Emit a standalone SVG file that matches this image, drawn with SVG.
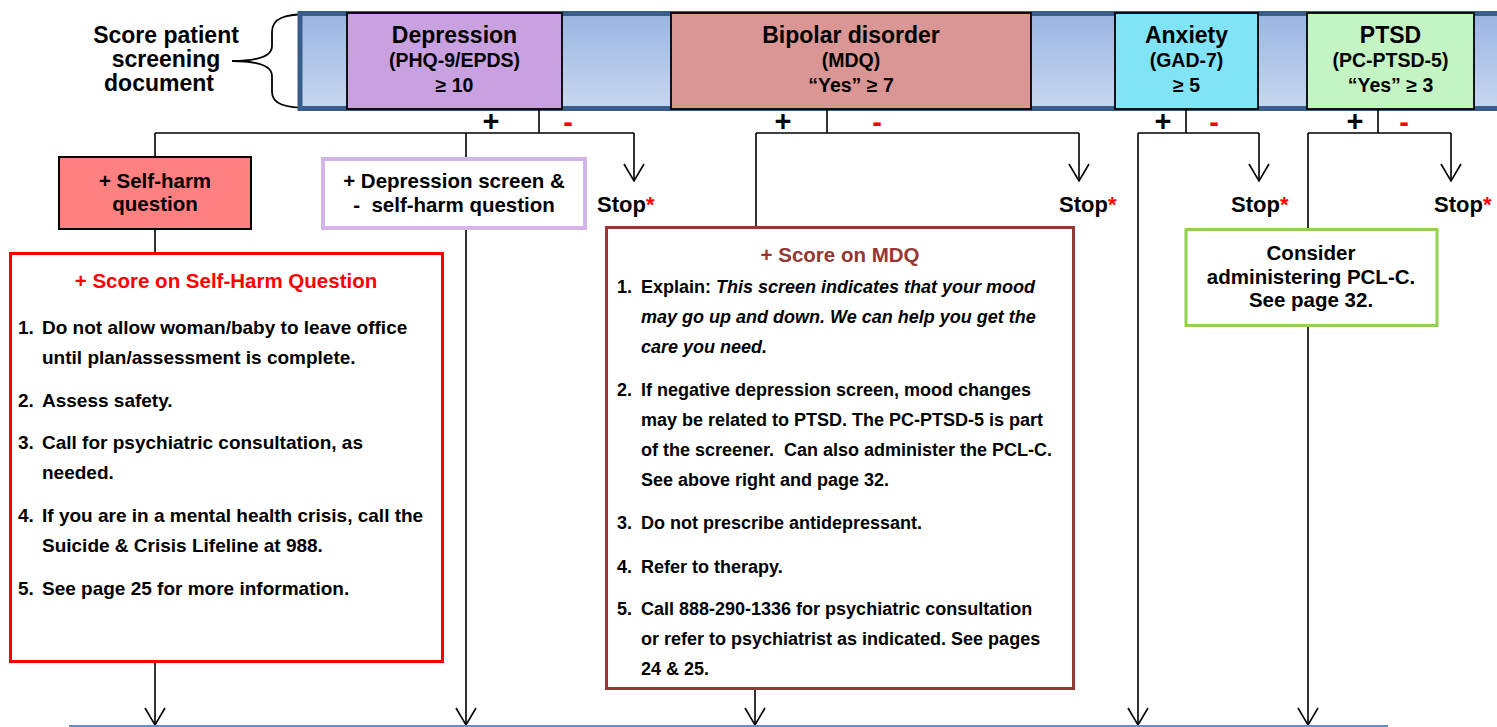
<svg xmlns="http://www.w3.org/2000/svg" width="1497" height="727" viewBox="0 0 1497 727">
<style>
text{font-family:"Liberation Sans",Arial,sans-serif;font-weight:bold;fill:#000}
.c{text-anchor:middle}
.h{font-size:23px}
.st{font-size:22px}
.s{font-size:19.5px}
.b{font-size:18px}
.bs{font-size:19px}
.t{font-size:20.5px}
.pm{font-size:29px}
.red{fill:#FF0000}
.mdq{fill:#953735}
.it{font-style:italic}
.con{fill:none;stroke:#000;stroke-width:1.6}
.arr{marker-end:url(#ah)}
.top{stroke:#000;stroke-width:1.8}
</style>
<defs>
<linearGradient id="bar" x1="0" y1="0" x2="0" y2="1">
<stop offset="0" stop-color="#9AB5E2"/>
<stop offset="1" stop-color="#C8D7EF"/>
</linearGradient>
<marker id="ah" viewBox="0 0 20 22" refX="18" refY="11" markerWidth="20" markerHeight="22" markerUnits="userSpaceOnUse" orient="auto">
<path d="M1,1 L18,11 L1,21" fill="none" stroke="#000" stroke-width="1.6"/>
</marker>
</defs>
<rect width="1497" height="727" fill="#fff"/>

<g id="label-score">
<text class="h c" x="166" y="43">Score patient</text>
<text class="h c" x="166" y="67">screening</text>
<text class="h c" x="159" y="91">document</text>
<path d="M310,14 C285,14 272,18 272,32 L272,46 C272,56 260,61 232,61 C260,61 272,66 272,76 L272,92 C272,104 285,108 310,108" fill="none" stroke="#000" stroke-width="1.8"/>
</g>

<g id="bar-group">
<rect x="300" y="13.5" width="1210" height="95" fill="url(#bar)" stroke="#385D8A" stroke-width="5"/>
</g>

<g id="depression">
<rect class="top" x="347" y="13" width="215" height="96" fill="#C9A0E0"/>
<text class="h c" x="454.5" y="43">Depression</text>
<text class="s c" x="454.5" y="67">(PHQ-9/EPDS)</text>
<text class="s c" x="454.5" y="92">≥ 10</text>
</g>
<g id="bipolar">
<rect class="top" x="671" y="13" width="360" height="96" fill="#DA9694"/>
<text class="h c" x="851" y="43">Bipolar disorder</text>
<text class="s c" x="851" y="67">(MDQ)</text>
<text class="s c" x="851" y="92">“Yes” ≥ 7</text>
</g>
<g id="anxiety">
<rect class="top" x="1115" y="13" width="143" height="96" fill="#80E4F6"/>
<text class="h c" x="1186.5" y="43">Anxiety</text>
<text class="s c" x="1186.5" y="67">(GAD-7)</text>
<text class="s c" x="1186.5" y="92">≥ 5</text>
</g>
<g id="ptsd">
<rect class="top" x="1307" y="13" width="167" height="96" fill="#C4F4C4"/>
<text class="h c" x="1390.5" y="43">PTSD</text>
<text class="s c" x="1390.5" y="67">(PC-PTSD-5)</text>
<text class="s c" x="1390.5" y="92">“Yes” ≥ 3</text>
</g>

<g id="connectors">
<path class="con" d="M539,109 V133 M155,133 H634 M155,133 V157 M466,133 V157"/>
<path class="con arr" d="M634,133 V181"/>
<path class="con" d="M155,229 V253"/>
<path class="con arr" d="M155,662 V725"/>
<path class="con arr" d="M466,230 V725"/>
<path class="con" d="M827,109 V133 M756,133 H1079 M756,133 V227"/>
<path class="con arr" d="M1079,133 V181"/>
<path class="con arr" d="M755,689 V725"/>
<path class="con" d="M1186,109 V133 M1138,133 H1259"/>
<path class="con arr" d="M1259,133 V181"/>
<path class="con arr" d="M1138,133 V725"/>
<path class="con" d="M1378,109 V133 M1308,133 H1451 M1308,133 V228"/>
<path class="con arr" d="M1451,133 V181"/>
<path class="con arr" d="M1308,327 V725"/>
<path d="M69,726 H1388" stroke="#5B8FD0" stroke-width="2" fill="none"/>
</g>

<g id="branch-labels">
<text class="pm c" x="491" y="131">+</text>
<text class="pm c red" x="568" y="132">-</text>
<text class="pm c" x="783" y="131">+</text>
<text class="pm c red" x="877" y="132">-</text>
<text class="pm c" x="1163" y="131">+</text>
<text class="pm c red" x="1214" y="132">-</text>
<text class="pm c" x="1355" y="131">+</text>
<text class="pm c red" x="1404" y="132">-</text>
</g>

<g id="stops">
<text class="st" x="597" y="212">Stop<tspan class="red">*</tspan></text>
<text class="st" x="1059" y="212">Stop<tspan class="red">*</tspan></text>
<text class="st" x="1231" y="212">Stop<tspan class="red">*</tspan></text>
<text class="st" x="1434" y="212">Stop<tspan class="red">*</tspan></text>
</g>

<g id="self-harm-q">
<rect x="59" y="157" width="192" height="72" fill="#FF8080" stroke="#000" stroke-width="2"/>
<text class="t c" x="155" y="188">+ Self-harm</text>
<text class="t c" x="155" y="211">question</text>
</g>

<g id="dep-screen">
<rect x="323" y="159" width="262" height="69" fill="#fff" stroke="#D3B5E9" stroke-width="4"/>
<text class="t c" x="454" y="188">+ Depression screen &amp;</text>
<text class="t c" x="454" y="212" xml:space="preserve">-  self-harm question</text>
</g>

<g id="self-harm-score">
<rect x="10.5" y="253.5" width="432" height="408" fill="#fff" stroke="#FF0000" stroke-width="3"/>
<text class="t c red" x="226" y="288">+ Score on Self-Harm Question</text>
<text class="bs" x="18" y="334">1.</text><text class="bs" x="42" y="334">Do not allow woman/baby to leave office</text>
<text class="bs" x="42" y="364">until plan/assessment is complete.</text>
<text class="bs" x="18" y="407">2.</text><text class="bs" x="42" y="407">Assess safety.</text>
<text class="bs" x="18" y="449">3.</text><text class="bs" x="42" y="449">Call for psychiatric consultation, as</text>
<text class="bs" x="42" y="479">needed.</text>
<text class="bs" x="18" y="522">4.</text><text class="bs" x="42" y="522">If you are in a mental health crisis, call the</text>
<text class="bs" x="42" y="552">Suicide &amp; Crisis Lifeline at 988.</text>
<text class="bs" x="18" y="595">5.</text><text class="bs" x="42" y="595">See page 25 for more information.</text>
</g>

<g id="mdq-score">
<rect x="606.5" y="227.5" width="467" height="461" fill="#fff" stroke="#953735" stroke-width="3"/>
<text class="t c mdq" x="840" y="262">+ Score on MDQ</text>
<text class="b" x="617" y="293">1.</text><text class="b" x="641" y="293">Explain: <tspan class="it">This screen indicates that your mood</tspan></text>
<text class="b it" x="641" y="323">may go up and down. We can help you get the</text>
<text class="b it" x="641" y="353">care you need.</text>
<text class="b" x="617" y="396">2.</text><text class="b" x="641" y="396">If negative depression screen, mood changes</text>
<text class="b" x="641" y="426">may be related to PTSD. The PC-PTSD-5 is part</text>
<text class="b" x="641" y="456" xml:space="preserve">of the screener.  Can also administer the PCL-C.</text>
<text class="b" x="641" y="486">See above right and page 32.</text>
<text class="b" x="617" y="529">3.</text><text class="b" x="641" y="529">Do not prescribe antidepressant.</text>
<text class="b" x="617" y="573">4.</text><text class="b" x="641" y="573">Refer to therapy.</text>
<text class="b" x="617" y="615">5.</text><text class="b" x="641" y="615">Call 888-290-1336 for psychiatric consultation</text>
<text class="b" x="641" y="645">or refer to psychiatrist as indicated. See pages</text>
<text class="b" x="641" y="675">24 &amp; 25.</text>
</g>

<g id="pcl-c">
<rect x="1186" y="229.5" width="251" height="96" fill="#fff" stroke="#92D050" stroke-width="3"/>
<text class="t c" x="1311" y="260">Consider</text>
<text class="t c" x="1311" y="284">administering PCL-C.</text>
<text class="t c" x="1311" y="307">See page 32.</text>
</g>
</svg>
